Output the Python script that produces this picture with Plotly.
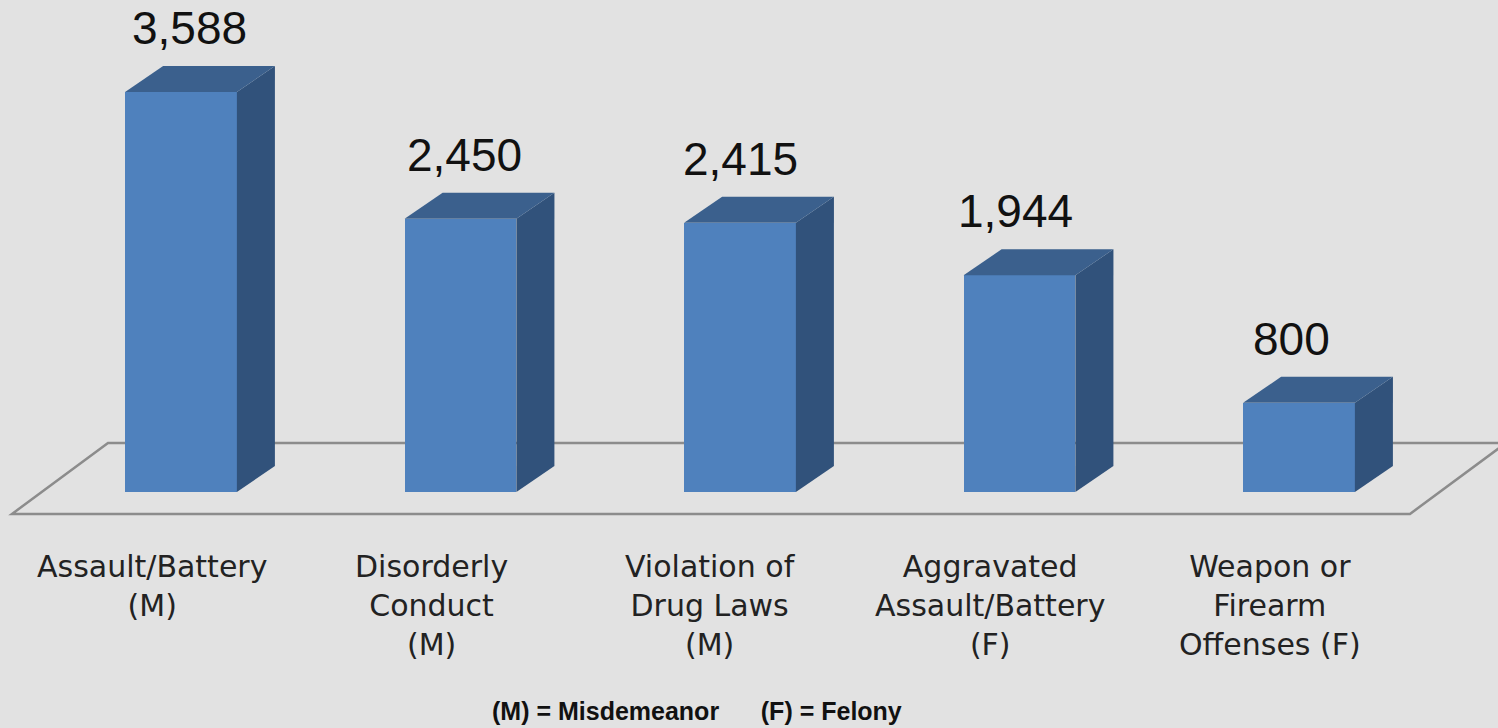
import plotly.graph_objects as go

# ---------------- data ----------------
categories = [
    "Assault/Battery<br>(M)",
    "Disorderly<br>Conduct<br>(M)",
    "Violation of<br>Drug Laws<br>(M)",
    "Aggravated<br>Assault/Battery<br>(F)",
    "Weapon or<br>Firearm<br>Offenses (F)",
]
values = [3588, 2450, 2415, 1944, 800]
value_labels = ["3,588", "2,450", "2,415", "1,944", "800"]
footnote = "(M) = Misdemeanor&nbsp;&nbsp;&nbsp;&nbsp;&nbsp;&nbsp;(F) = Felony"

# ---------------- styling / geometry ----------------
W, H = 1498, 728
BG = "#e2e2e2"
FRONT = "#4f81bd"
TOP = "#3b608d"
SIDE = "#31527b"
FLOOR_LINE = "#8c8c8c"

BAR_W = 0.40          # category units
DEPTH_X = 0.136       # category units
DEPTH_Y = 233         # value units
X_RANGE = [-0.6476, 4.712]
Y_RANGE = [-2117, 4413]
LABEL_SHIFT = -0.104  # category label offset from bar centre

# floor parallelogram (front-left, back-left, back-right, front-right)
FLOOR_X = [-0.6047, -0.2612, 4.741, 4.397]
FLOOR_Y = [-197, 440, 440, -197]

pos = list(range(len(values)))

fig = go.Figure()

# front faces
fig.add_trace(go.Bar(
    x=pos, y=values, width=BAR_W,
    marker=dict(color=FRONT, line=dict(width=0)),
    hoverinfo="skip", showlegend=False,
))

# side and top faces computed from the data
for i, v in zip(pos, values):
    x0 = i - BAR_W / 2
    x1 = i + BAR_W / 2
    fig.add_trace(go.Scatter(
        x=[x1, x1 + DEPTH_X, x1 + DEPTH_X, x1, x1],
        y=[0, DEPTH_Y, v + DEPTH_Y, v, 0],
        fill="toself", fillcolor=SIDE, mode="lines",
        line=dict(width=0, color=SIDE), hoverinfo="skip", showlegend=False,
    ))
    fig.add_trace(go.Scatter(
        x=[x0, x1, x1 + DEPTH_X, x0 + DEPTH_X, x0],
        y=[v, v, v + DEPTH_Y, v + DEPTH_Y, v],
        fill="toself", fillcolor=TOP, mode="lines",
        line=dict(width=0, color=TOP), hoverinfo="skip", showlegend=False,
    ))

# floor outline (behind bars)
path = "M " + " L ".join(f"{x},{y}" for x, y in zip(FLOOR_X, FLOOR_Y)) + " Z"
shapes = [dict(type="path", path=path, xref="x", yref="y", layer="below",
               line=dict(color=FLOOR_LINE, width=2.5), fillcolor="rgba(0,0,0,0)")]

annotations = []
# value labels
for i, (v, t) in enumerate(zip(values, value_labels)):
    annotations.append(dict(
        x=i, y=v + DEPTH_Y, xref="x", yref="y", text=t, showarrow=False,
        xanchor="center", yanchor="bottom", yshift=10, xshift=(2 - i) * 4,
        font=dict(family="Liberation Sans", size=46, color="#111111"),
    ))
# category labels
for i, c in enumerate(categories):
    annotations.append(dict(
        x=i + LABEL_SHIFT, y=1 - 547 / H, xref="x", yref="paper", text=c,
        showarrow=False, xanchor="center", yanchor="top", align="center",
        font=dict(family="DejaVu Sans", size=30, color="#222222"),
    ))
# footnote
annotations.append(dict(
    x=697 / W, y=1 - 711 / H, xref="paper", yref="paper", text="<b>" + footnote + "</b>",
    showarrow=False, xanchor="center", yanchor="middle",
    font=dict(family="Liberation Sans", size=25, color="#111111"),
))

fig.update_layout(
    width=W, height=H,
    margin=dict(l=0, r=0, t=0, b=0),
    paper_bgcolor=BG, plot_bgcolor=BG,
    xaxis=dict(range=X_RANGE, visible=False, fixedrange=True),
    yaxis=dict(range=Y_RANGE, visible=False, fixedrange=True),
    shapes=shapes, annotations=annotations,
    showlegend=False, bargap=0,
)

fig.write_html(
    "out.html",
    config={"displayModeBar": False},
    post_script="document.body.style.margin='0';document.body.style.overflow='hidden';",
)
